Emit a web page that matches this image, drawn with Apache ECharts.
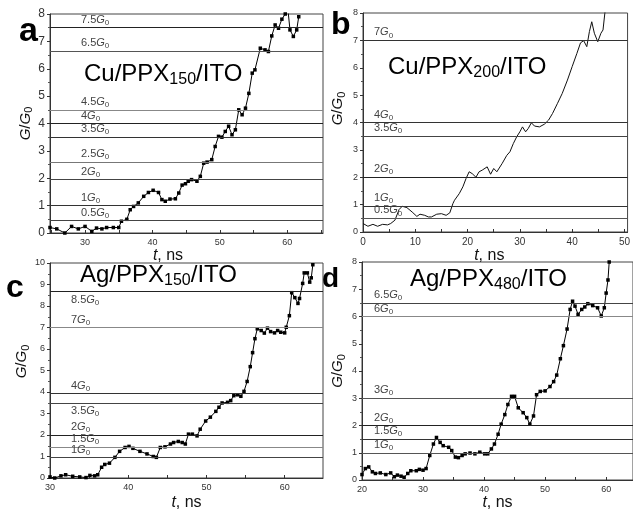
<!DOCTYPE html>
<html><head><meta charset="utf-8">
<script src="https://cdn.jsdelivr.net/npm/echarts@6/dist/echarts.min.js"></script>
<style>html,body{margin:0;padding:0;background:#fff}#c{width:633px;height:512px}</style>
</head><body><div id="c"></div>
<script>
// ---- Panel a: Cu/PPX150/ITO ----
const tA = [24.8,25.8,27.0,28.0,29.0,30.0,31.0,31.7,32.5,33.2,34.2,35.0,35.4,36.2,36.7,37.2,37.9,38.7,39.4,40.1,40.9,41.4,41.9,42.6,43.4,43.9,44.4,44.9,45.3,45.8,46.6,47.1,47.6,48.1,48.8,49.3,49.8,50.3,50.8,51.3,51.8,52.3,52.8,53.3,53.8,54.3,54.8,55.2,56.0,56.7,57.2,57.7,58.2,58.7,59.2,59.7,60.0,60.4,60.9,61.4,61.7];
const gA = [0.2,0.15,0.0,0.24,0.15,0.24,0.06,0.18,0.15,0.2,0.2,0.2,0.43,0.5,0.85,0.97,1.1,1.34,1.48,1.56,1.48,1.22,1.16,1.24,1.25,1.46,1.75,1.8,1.89,1.95,1.89,2.07,2.55,2.59,2.68,3.16,3.53,3.5,3.71,3.9,3.59,3.77,4.5,4.32,4.56,5.1,5.84,5.96,6.75,6.69,6.63,7.2,7.6,7.48,7.81,8.0,8.4,7.42,7.18,7.42,7.9];
const levelsA = [7.5,6.65,4.5,4.0,3.5,2.6,1.95,1.0,0.45];
const levelNamesA = ['7.5','6.5','4.5','4','3.5','2.5','2','1','0.5'];
const xTicksA = [30,40,50,60];

// ---- Panel b: Cu/PPX200/ITO ----
const tB = [0,0.94,1.9,2.8,3.75,4.7,5.3,5.6,6.1,6.9,7.5,8.4,9.4,10.3,10.9,11.8,12.5,13.1,14.1,15,15.9,16.6,17.2,17.5,18.4,19.1,19.7,20.3,20.9,21.6,22.2,22.8,23.75,24.4,25,25.6,26.6,27.5,28.1,28.75,29.4,30,30.5,31.1,31.6,32.2,32.8,33.75,34.7,35.5,36.25,37.2,38.1,39.1,40,40.9,41.6,42.2,42.8,43.3,43.75,44.25,44.9,45.5,45.9,46.25,46.6];
const gB = [0.31,0.21,0.28,0.21,0.28,0.26,0.31,0.24,0.43,0.82,0.94,0.89,0.73,0.57,0.65,0.61,0.55,0.55,0.65,0.67,0.61,0.7,1.04,1.16,1.4,1.65,1.95,2.2,2.13,2.0,2.2,2.26,2.38,2.11,2.32,2.2,2.5,2.8,2.93,3.23,3.48,3.66,3.84,3.66,3.78,3.99,3.87,3.84,3.94,4.09,4.33,4.7,5.06,5.55,6.04,6.52,6.91,6.99,6.77,7.32,7.68,7.26,6.95,7.26,7.38,7.99,8.5];
const levelsB = [7,4,3.5,2,0.95,0.5];
const levelNamesB = ['7','4','3.5','2','1','0.5'];
const xTicksB = [0,10,20,30,40,50];

// ---- Panel c: Ag/PPX150/ITO ----
const tC = [30,30.6,31.4,32,32.9,33.8,34.6,35.1,35.7,36.1,36.6,37,37.6,38.3,38.9,39.6,40.1,40.6,41.5,42.4,43.2,43.6,44.1,44.7,45.4,45.8,46.4,46.9,47.3,47.7,48.2,48.8,49.2,49.9,50.5,51.2,51.6,52,52.7,53.1,53.5,54,54.4,54.8,55.2,55.6,55.9,56.2,56.5,57,57.4,57.8,58.2,58.7,59.1,59.5,60,60.2,60.6,60.9,61.3,61.7,61.9,62.3,62.5,62.9,63.2,63.4,63.6];
const gC = [0.05,0.0,0.1,0.15,0.08,0.05,0.02,0.12,0.1,0.15,0.5,0.63,0.69,0.96,1.24,1.42,1.47,1.38,1.24,1.12,1.0,0.96,1.42,1.45,1.58,1.65,1.7,1.65,1.58,2.04,2.04,1.96,2.27,2.65,2.83,3.1,3.29,3.49,3.52,3.6,3.83,3.87,3.8,4.03,4.49,5.18,5.83,6.48,6.94,6.86,6.74,6.97,6.81,6.75,6.86,6.78,6.75,7.01,7.55,8.62,8.39,8.12,8.35,9.05,9.54,9.54,9.11,9.31,9.92];
const levelsC = [8.67,7,3.92,3.5,2,1.45,0.95];
const levelNamesC = ['8.5','7','4','3.5','2','1.5','1'];
const xTicksC = [30,40,50,60];

// ---- Panel d: Ag/PPX480/ITO ----
const tD = [20,20.55,21.1,21.7,22.2,23,23.9,24.7,25.3,25.8,26.4,26.9,27.5,28,28.9,29.4,30,30.5,31.1,31.7,32.2,32.8,33.3,34.2,34.7,35.3,35.8,36.4,36.9,37.7,38.5,39.3,40.1,40.6,41.2,41.7,42.3,42.8,43.4,43.9,44.5,45,45.6,46.4,47,47.5,48.1,48.6,49.2,50,50.8,51.4,51.9,52.5,53,53.6,54.1,54.5,54.9,55.4,56,56.5,57,57.8,58.6,59.2,59.7,60,60.3,60.5];
const gD = [0.2,0.42,0.48,0.3,0.24,0.26,0.2,0.26,0.12,0.18,0.14,0.1,0.24,0.34,0.34,0.39,0.36,0.42,0.9,1.32,1.56,1.38,1.26,1.2,1.08,0.84,0.82,0.9,0.96,0.99,0.96,1.02,0.96,0.96,1.14,1.32,1.68,2.05,2.4,2.77,3.07,3.07,2.65,2.47,2.29,2.05,2.35,3.13,3.25,3.27,3.43,3.61,3.85,4.45,4.93,5.54,6.26,6.56,6.38,6.08,6.26,6.35,6.47,6.4,6.32,6.02,6.32,6.86,7.34,8.0];
const levelsD = [6.5,6,3,2,1.5,1];
const levelNamesD = ['6.5','6','3','2','1.5','1'];
const xTicksD = [20,30,40,50,60];

const titlesMain = [['Cu/PPX','150','/ITO'],['Cu/PPX','200','/ITO'],['Ag/PPX','150','/ITO'],['Ag/PPX','480','/ITO']];
const letters = ['a','b','c','d'];

// ---------------- build ----------------
const FONT = '"Liberation Sans", Arial, Helvetica, sans-serif';
const zip = (t, g) => t.slice(0, Math.min(t.length, g.length)).map((v, i) => [v, g[i]]);
const range = (a, b, s) => { const r = []; for (let v = a; v <= b + 1e-9; v += s) r.push(v); return r; };

const lvlRich = {
  n: {fontSize: 11, lineHeight: 14, color: '#444', fontFamily: FONT},
  g: {fontSize: 11, lineHeight: 14, color: '#444', fontStyle: 'italic', fontFamily: FONT},
  s: {fontSize: 8, lineHeight: 5, color: '#444', verticalAlign: 'bottom', fontFamily: FONT}
};

function levelMark(levels, names, belowSet, padLeft, colors) {
  return {
    silent: true, symbol: 'none', animation: false,
    lineStyle: {type: 'solid', width: 1, color: '#333'},
    label: {show: true, rich: lvlRich, distance: 2},
    data: levels.map((v, i) => ({
      yAxis: v,
      lineStyle: {type: 'solid', width: 1, color: colors[i]},
      label: {
        show: true,
        position: belowSet.includes(i) ? 'insideStartBottom' : 'insideStartTop',
        padding: [0, 0, 0, padLeft],
        distance: 1,
        formatter: '{n|' + names[i] + '}{g|G}{s|0}',
        rich: lvlRich
      }
    }))
  };
}

const grids = [
  {left: 50, top: 14, width: 273, height: 219},
  {left: 363, top: 13, width: 270, height: 219},
  {left: 50, top: 263, width: 273, height: 218},
  {left: 362, top: 262, width: 271, height: 221}
].map(g => Object.assign({show: true, borderColor: '#444', borderWidth: 1, containLabel: false}, g));

const xCfg = [
  {min: 24.8, max: 65.3, labels: xTicksA, ticks: range(25, 65, 5), fs: 9, gap: 13, pad: [0, 37, 0, 0]},
  {min: 0, max: 50.6, labels: xTicksB, ticks: range(0, 50, 5), fs: 10, gap: 13, pad: [0, 12, 0, 0]},
  {min: 30, max: 64.9, labels: xTicksC, ticks: range(30, 60, 5), fs: 9, gap: 17, pad: 0},
  {min: 20, max: 64.4, labels: xTicksD, ticks: range(20, 60, 5), fs: 9, gap: 15, pad: 0}
];
const yCfg = [
  {max: 8, fs: 12, gap: 15, pad: 0},
  {max: 8, fs: 9, gap: 16, pad: [0, 0, 0, 28]},
  {max: 10, fs: 9, gap: 17, pad: [0, 0, 0, 18]},
  {max: 8, fs: 9, gap: 15, pad: 0}
];

const xAxis = xCfg.map((c, i) => ({
  type: 'value', gridIndex: i, min: c.min, max: c.max,
  name: '{i|t}, ns', nameLocation: 'middle', nameGap: c.gap,
  nameTextStyle: {fontSize: 16, fontFamily: FONT, color: '#111', padding: c.pad,
    rich: {i: {fontStyle: 'italic', fontSize: 16, fontFamily: FONT, color: '#111'}}},
  axisLine: {show: true, lineStyle: {color: '#333', width: 1}},
  axisTick: {show: true, inside: true, length: 3, customValues: c.ticks, lineStyle: {color: '#333'}},
  axisLabel: {show: true, customValues: c.labels, fontSize: c.fs, fontFamily: FONT, color: '#333', margin: 5,
    formatter: v => String(Math.round(v)), showMinLabel: true, showMaxLabel: true},
  splitLine: {show: false}
}));

const yAxis = yCfg.map((c, i) => ({
  type: 'value', gridIndex: i, min: 0, max: c.max, interval: 1,
  name: '{g|G}/{g|G}{s|0}', nameLocation: 'middle', nameGap: c.gap,
  nameTextStyle: {fontSize: 15, fontFamily: FONT, color: '#111', padding: c.pad, lineHeight: 18,
    rich: {g: {fontStyle: 'italic', fontSize: 15, lineHeight: 18, fontFamily: FONT, color: '#111'},
           s: {fontSize: 11, lineHeight: 7, verticalAlign: 'bottom', fontFamily: FONT, color: '#111'}}},
  axisLine: {show: true, lineStyle: {color: '#333', width: 1}},
  axisTick: {show: true, inside: false, length: 3, lineStyle: {color: '#333'}},
  minorTick: {show: true, splitNumber: 2, length: 2, lineStyle: {color: '#555'}},
  axisLabel: {fontSize: c.fs, fontFamily: FONT, color: '#333', margin: 5},
  splitLine: {show: false}, minorSplitLine: {show: false}
}));

const markerStyle = {color: '#000'};
const series = [
  {type: 'line', xAxisIndex: 0, yAxisIndex: 0, data: zip(tA, gA), symbol: 'rect', symbolSize: 3.5,
   itemStyle: markerStyle, lineStyle: {color: '#000', width: 1}, clip: true,
   markLine: levelMark(levelsA, levelNamesA, [], 30, ['#222','#555','#888','#222','#333','#777','#444','#333','#444'])},
  {type: 'line', xAxisIndex: 1, yAxisIndex: 1, data: zip(tB, gB), symbol: 'none',
   lineStyle: {color: '#111', width: 1}, clip: true,
   markLine: levelMark(levelsB, levelNamesB, [], 10, ['#333','#333','#444','#222','#333','#555'])},
  {type: 'line', xAxisIndex: 2, yAxisIndex: 2, data: zip(tC, gC), symbol: 'rect', symbolSize: 3.5,
   itemStyle: markerStyle, lineStyle: {color: '#000', width: 1}, clip: true,
   markLine: levelMark(levelsC, levelNamesC, [0, 3], 20, ['#222','#888','#333','#444','#222','#888','#444'])},
  {type: 'line', xAxisIndex: 3, yAxisIndex: 3, data: zip(tD, gD), symbol: 'rect', symbolSize: 3.5,
   itemStyle: markerStyle, lineStyle: {color: '#000', width: 1}, clip: true,
   markLine: levelMark(levelsD, levelNamesD, [], 11, ['#444','#888','#555','#222','#333','#555'])}
];

const letterPos = [{left: 19, top: 15, fs: 34}, {left: 331, top: 9, fs: 32}, {left: 6, top: 272, fs: 32}, {left: 322, top: 265, fs: 28}];
const titlePos = [{left: 84, top: 60}, {left: 388, top: 53}, {left: 80, top: 261}, {left: 410, top: 265}];

const titleRich = {
  m: {fontSize: 24, lineHeight: 28, color: '#000', fontWeight: 'normal', fontFamily: FONT},
  s: {fontSize: 16, lineHeight: 10, verticalAlign: 'bottom', color: '#000', fontWeight: 'normal', fontFamily: FONT}
};
const title = [];
letters.forEach((L, i) => title.push({
  text: L, left: letterPos[i].left, top: letterPos[i].top, padding: 0,
  textStyle: {fontSize: letterPos[i].fs, fontWeight: 'bold', fontFamily: FONT, color: '#000'}
}));
titlesMain.forEach((t, i) => title.push({
  text: '{m|' + t[0] + '}{s|' + t[1] + '}{m|' + t[2] + '}',
  left: titlePos[i].left, top: titlePos[i].top, padding: 0,
  textStyle: {fontSize: 24, fontWeight: 'normal', fontFamily: FONT, color: '#000', rich: titleRich}
}));

const chart = echarts.init(document.getElementById('c'), null, {renderer: 'canvas'});
chart.setOption({
  backgroundColor: '#fff',
  animation: false,
  textStyle: {fontFamily: FONT},
  title: title,
  grid: grids,
  xAxis: xAxis,
  yAxis: yAxis,
  series: series
});
</script>
</body></html>
